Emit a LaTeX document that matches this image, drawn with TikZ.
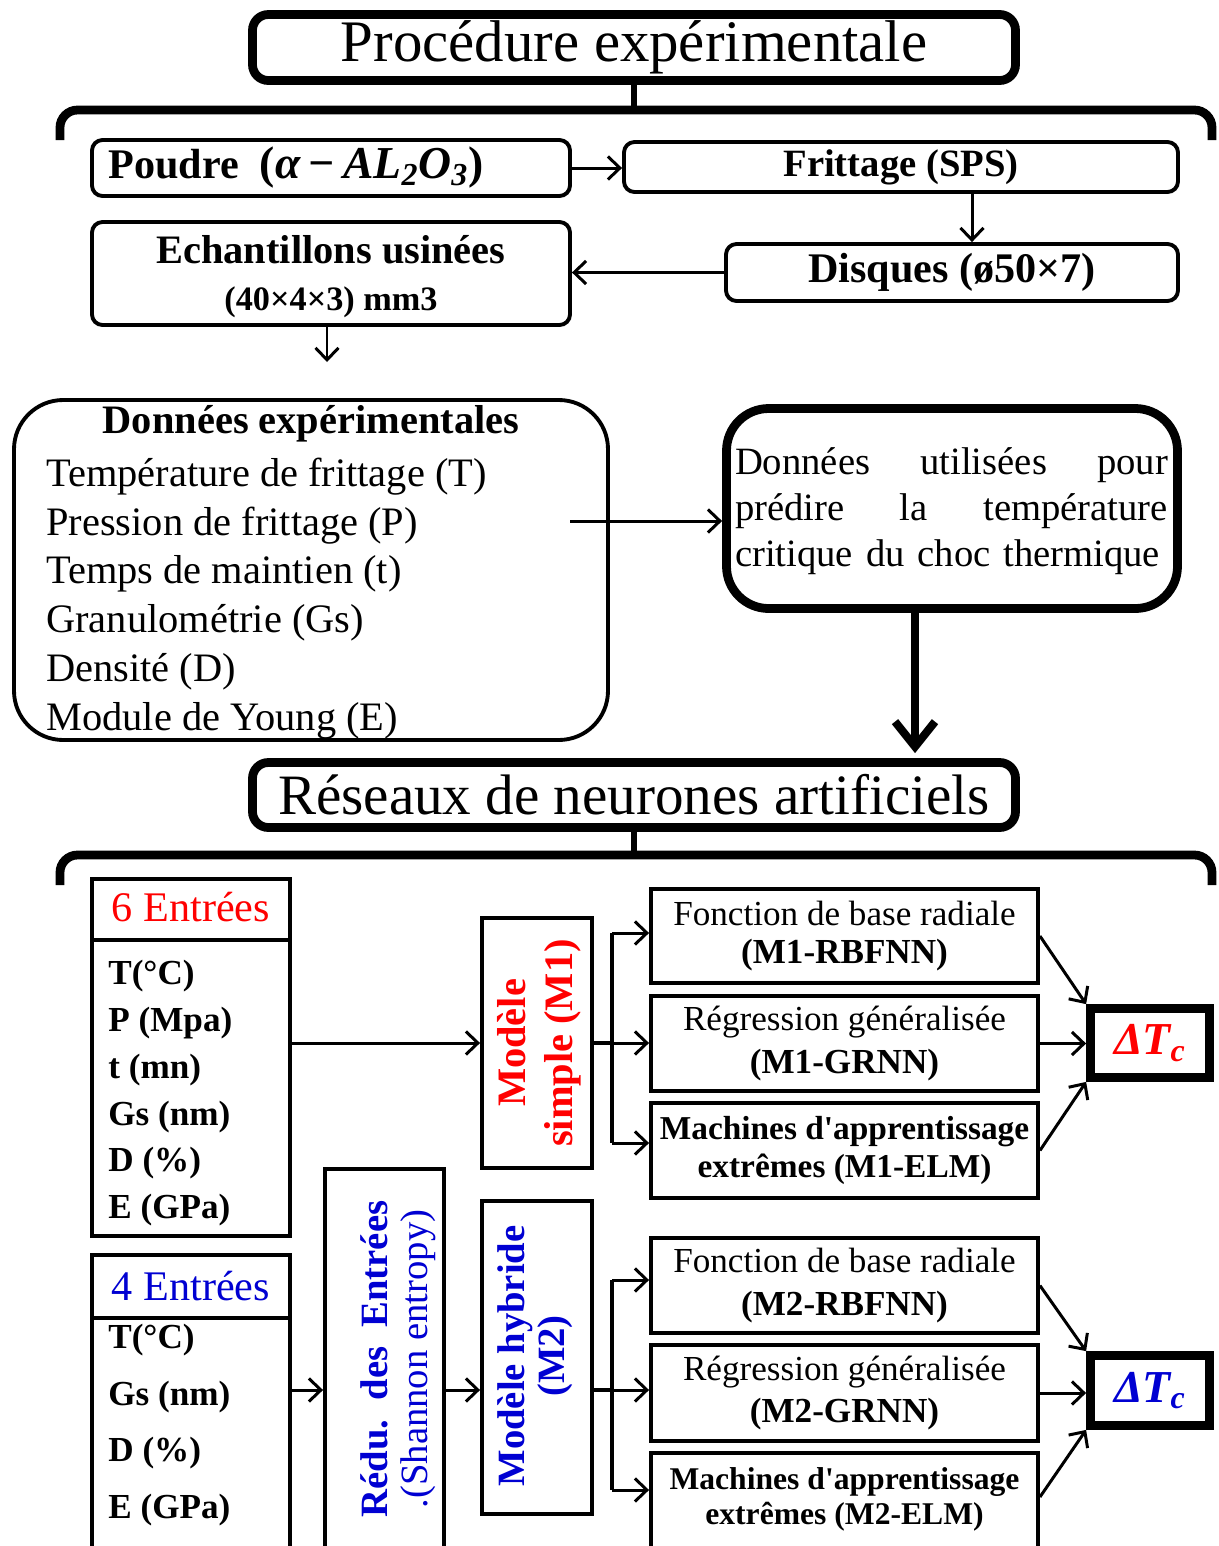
\documentclass[tikz,border=0pt]{standalone}
\usepackage{fontspec}
\setmainfont{Liberation Serif}
\usetikzlibrary{arrows.meta,calc}
\definecolor{myred}{RGB}{255,0,0}
\definecolor{myblue}{RGB}{0,0,210}
\newcommand{\fsz}[2]{\fontsize{#1}{#2}\selectfont}
\tikzset{
  sz/.style 2 args={minimum width=#1*0.02cm, minimum height=#2*0.02cm},
  box/.style={draw, line width=2.2pt, inner sep=0pt},
  rbox/.style={box, rounded corners=6pt},
  tkbox/.style={draw, line width=5pt, inner sep=0pt},
  arr/.style={line width=1.7pt, -{Straight Barb[length=2.4mm,width=4.6mm]}},
  plain/.style={line width=1.9pt},
  bigarr/.style={line width=4.6pt, -{Straight Barb[length=5mm,width=8mm]}},
  brk/.style={line width=5pt, rounded corners=10pt},
  txt/.style={inner sep=0pt},
  item/.style={txt, anchor=west},
}
\begin{document}
\begin{tikzpicture}[x=0.02cm,y=-0.02cm]
\useasboundingbox (0,0) rectangle (1219,1546);
\fill[white] (0,0) rectangle (1219,1546);
\clip (0,0) rectangle (1219,1546);

% ---------- Procédure expérimentale ----------
\node[tkbox, rounded corners=9pt, sz={763}{66}] (t1) at (634,47.5) {\fsz{33.5}{36}Procédure expérimentale};
\coordinate (b1) at (634,110);
\draw[line width=3.5pt] (t1.south) -- (b1);
\draw[brk] (60,140) -- (60,110) -- (1212,110) -- (1212,140);

\node[rbox, sz={478}{56}] (pd) at (331,168) {};
\node[item] at (108,168) {\fsz{24}{28}\textbf{Poudre}\ \ {\fsz{26}{28}\textbf{(}\textbf{\textit{α\,−\,AL\textsubscript{2}O\textsubscript{3}}}\textbf{)}}};
\node[rbox, sz={554}{50}] (fr) at (901,167) {\fsz{22}{26}\textbf{Frittage (SPS)}};
\node[rbox, sz={452}{57}] (dq) at (952,272.5) {\fsz{24}{28}\textbf{Disques (ø50×7)}};
\node[rbox, sz={478}{103}] (ec) at (331,273.5) {};
\node[txt] at (331,250) {\fsz{23}{27}\textbf{Echantillons usinées}};
\node[txt] at (331,302) {\fsz{19.5}{23}\textbf{(40×4×3) mm3}};

\coordinate (fx) at (972,0);
\draw[arr] (pd.east) -- (pd.east -| fr.west);
\draw[arr] (fr.south -| fx) -- (dq.north -| fx);
\draw[arr] (dq.west) -- (dq.west -| ec.east);
\coordinate (ea) at (327,362);
\draw[arr] (ec.south -| ea) -- (ea);

% ---------- Données ----------
\node[box, rounded corners=28pt, sz={594}{340}] (de) at (311,570) {};
\node[txt] at (311,424) {\fsz{23}{27}\textbf{Données expérimentales}};
\node[item] at (46,477) {\fsz{23}{27}Température de frittage (T)};
\node[item] at (46,526) {\fsz{23}{27}Pression de frittage (P)};
\node[item] at (46,574) {\fsz{23}{27}Temps de maintien (t)};
\node[item] at (46,623) {\fsz{23}{27}Granulométrie (Gs)};
\node[item] at (46,672) {\fsz{23}{27}Densité (D)};
\node[item] at (46,721) {\fsz{23}{27}Module de Young (E)};

\node[tkbox, rounded corners=24pt, sz={451}{200}] (pr) at (952,508.5) {};
\node[txt, text width=8.66cm, align=left, font=\fsz{22}{26}] at (951.5,511) {Données\hfill utilisées\hfill pour\\ prédire\hfill la\hfill température\\ critique du choc thermique};

\coordinate (da) at (570,521);
\draw[arr] (da) -- (da -| pr.west);

% ---------- Réseaux ----------
\node[tkbox, rounded corners=9pt, sz={763}{65}] (t2) at (634,795) {\fsz{32.5}{36}Réseaux de neurones artificiels};
\coordinate (ta) at (915,0);
\draw[bigarr, shorten >=0.1cm] (pr.south -| ta) -- (t2.north -| ta);
\coordinate (b2) at (634,855);
\draw[line width=3.5pt] (t2.south) -- (b2);
\draw[brk] (60,885) -- (60,855) -- (1212,855) -- (1212,885);

% 6 entrées
\node[box, sz={198}{357}] (e6) at (191,1057.5) {};
\draw[line width=2.2pt] (92,940) -- (290,940);
\node[txt, text=myred] at (191,907) {\fsz{24}{28}6 Entrées};
\node[item] at (108,976) {\fsz{20}{24}\bfseries T(°C)};
\node[item] at (108,1023) {\fsz{20}{24}\bfseries P (Mpa)};
\node[item] at (108,1070) {\fsz{20}{24}\bfseries t (mn)};
\node[item] at (108,1117) {\fsz{20}{24}\bfseries Gs (nm)};
\node[item] at (108,1163) {\fsz{20}{24}\bfseries D (\%)};
\node[item] at (108,1210) {\fsz{20}{24}\bfseries E (GPa)};

\node[box, sz={110}{250}] (ms) at (537,1043) {};
\node[txt, rotate=90, align=center, text=myred, font=\fsz{23}{27}\bfseries] at (539,1043) {Modèle\\simple (M1)};

\draw[arr] (e6.east |- ms.west) -- (ms.west);
\coordinate (j1) at (612,1043);
\coordinate (j1t) at (612,933);
\coordinate (j1b) at (612,1143);
\draw[plain] (ms.east) -- (j1);
\draw[plain] (j1t) -- (j1b);

\node[box, sz={387}{94}, align=center, font=\fsz{20}{22}] (rb1) at (844.5,936) {Fonction de base radiale\\\textbf{(M1-RBFNN)}};
\node[box, sz={387}{95}, align=center, font=\fsz{20}{24}] (gr1) at (844.5,1043.5) {Régression généralisée\\\textbf{(M1-GRNN)}};
\node[box, sz={387}{95}, align=center, font=\fsz{19}{22}\bfseries] (el1) at (844.5,1150.5) {Machines d\textquotesingle apprentissage\\extrêmes (M1-ELM)};
\draw[arr] (j1t) -- (j1t -| rb1.west);
\draw[arr] (j1) -- (j1 -| gr1.west);
\draw[arr] (j1b) -- (j1b -| el1.west);

\node[tkbox, sz={119}{69}, text=myred] (dt1) at (1150,1043) {\fsz{26}{30}\textbf{\textit{ΔT\textsubscript{c}}}};
\draw[arr] (rb1.east) -- (dt1.north west);
\draw[arr] (gr1.east) -- (gr1.east -| dt1.west);
\draw[arr] (el1.east) -- (dt1.south west);

% 4 entrées
\node[box, sz={198}{323}] (e4) at (191,1416.5) {};
\draw[line width=2.2pt] (92,1318) -- (290,1318);
\node[txt, text=myblue] at (191,1286) {\fsz{24}{28}4 Entrées};
\node[item] at (108,1340) {\fsz{20}{24}\bfseries T(°C)};
\node[item] at (108,1397) {\fsz{20}{24}\bfseries Gs (nm)};
\node[item] at (108,1453) {\fsz{20}{24}\bfseries D (\%)};
\node[item] at (108,1510) {\fsz{20}{24}\bfseries E (GPa)};

\node[box, sz={119}{409}] (rd) at (384.5,1373.5) {};
\node[txt, rotate=90, align=center, text=myblue, font=\fsz{22}{23}] at (398,1359) {\textbf{Rédu.\ \ des\ \ Entrées}\\.(Shannon entropy)};

\node[box, sz={110}{313}] (mh) at (537,1357.5) {};
\node[txt, rotate=90, align=center, text=myblue, font=\fsz{22}{23}\bfseries] at (535,1356) {Modèle hybride\\(M2)};

\coordinate (y2) at (0,1390);
\draw[arr] (e4.east |- y2) -- (rd.west |- y2);
\draw[arr] (rd.east |- y2) -- (mh.west |- y2);
\coordinate (j2) at (612,1390);
\coordinate (j2t) at (612,1280);
\coordinate (j2b) at (612,1490);
\draw[plain] (mh.east |- y2) -- (j2);
\draw[plain] (j2t) -- (j2b);

\node[box, sz={387}{95}, align=center, font=\fsz{20}{24}] (rb2) at (844.5,1285.5) {Fonction de base radiale\\\textbf{(M2-RBFNN)}};
\node[box, sz={387}{96}, align=center, font=\fsz{20}{24}] (gr2) at (844.5,1393) {Régression généralisée\\\textbf{(M2-GRNN)}};
\node[box, sz={387}{125}] (el2) at (844.5,1515.5) {};
\node[txt, align=center, font=\fsz{18}{20}\bfseries] at (844.5,1499.5) {Machines d\textquotesingle apprentissage\\extrêmes (M2-ELM)};
\draw[arr] (j2t) -- (j2t -| rb2.west);
\draw[arr] (j2) -- (j2 -| gr2.west);
\draw[arr] (j2b) -- (j2b -| el2.west);

\node[tkbox, sz={119}{70}, text=myblue] (dt2) at (1150,1390.5) {\fsz{26}{30}\textbf{\textit{ΔT\textsubscript{c}}}};
\coordinate (y3) at (0,1497);
\draw[arr] (rb2.east) -- (dt2.north west);
\draw[arr] (gr2.east) -- (gr2.east -| dt2.west);
\draw[arr] (el2.east |- y3) -- (dt2.south west);
\end{tikzpicture}
\end{document}
